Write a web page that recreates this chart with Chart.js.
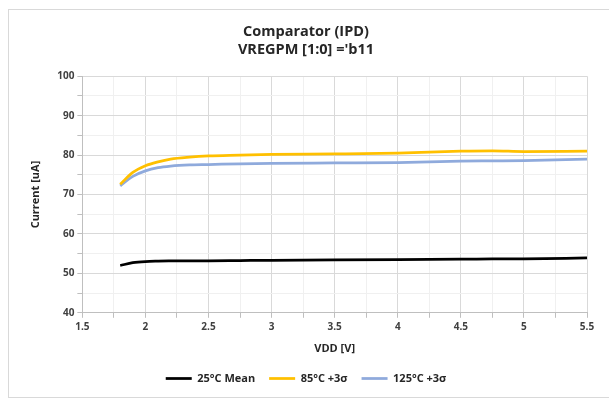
<!DOCTYPE html>
<html>
<head>
<meta charset="utf-8">
<script src="https://cdn.jsdelivr.net/npm/chart.js@4.4.1/dist/chart.umd.min.js"></script>
<style>
  html, body { margin: 0; padding: 0; background: #fff; }
  #wrap { position: absolute; left: 0; top: 0; width: 609px; height: 411px; }
</style>
</head>
<body>
<div id="wrap"><canvas id="chart" width="609" height="411"></canvas></div>
<script>
const vdd = [1.8, 1.9, 2.0, 2.1, 2.2, 2.35, 2.5, 2.75, 3, 3.5, 4, 4.5, 4.75, 5, 5.5];
const mean25 = [52.0, 52.7, 53.0, 53.1, 53.15, 53.2, 53.2, 53.25, 53.3, 53.4, 53.5, 53.6, 53.65, 53.7, 53.9];
const sigma85 = [72.6, 75.6, 77.3, 78.3, 79.0, 79.5, 79.8, 80.0, 80.2, 80.3, 80.5, 81.0, 81.1, 80.9, 81.0];
const sigma125 = [72.2, 74.6, 76.0, 76.8, 77.2, 77.5, 77.6, 77.8, 77.9, 78.0, 78.1, 78.5, 78.55, 78.6, 79.0];
const seriesNames = ["25°C Mean", "85°C +3σ", "125°C +3σ"];
const seriesColors = ["#000000", "#FFC000", "#8FAADC"];

const font = "'Open Sans', 'DejaVu Sans', sans-serif";
const chartCanvas = document.getElementById("chart");

function toPoints(ys) {
    return vdd.map((x, i) => ({ x: x, y: ys[i] }));
}

// outer frame like the spreadsheet chart border
const framePlugin = {
    id: "frame",
    beforeDraw(chart) {
        const ctx = chart.ctx;
        ctx.save();
        ctx.fillStyle = "#fff";
        ctx.fillRect(0, 0, chart.width, chart.height);
        ctx.strokeStyle = "#d9d9d9";
        ctx.lineWidth = 1;
        ctx.strokeRect(8.5, 9.5, 610, 388);
        ctx.restore();
    }
};

const datasets = [mean25, sigma85, sigma125].map((ys, i) => ({
    label: seriesNames[i],
    data: toPoints(ys),
    borderColor: seriesColors[i],
    backgroundColor: seriesColors[i],
    borderWidth: 2.75,
    pointRadius: 0,
    cubicInterpolationMode: "monotone",
    fill: false
}));

new Chart(chartCanvas, {
    type: "line",
    data: { datasets },
    options: {
        responsive: false,
        animation: false,
        layout: { padding: { left: 25, right: 22, top: 16, bottom: 17 } },
        plugins: {
            title: {
                display: true,
                text: ["Comparator (IPD)", "VREGPM [1:0] ='b11"],
                color: "#262626",
                font: { family: font, size: 14.5, weight: 700, lineHeight: 1.25 },
                padding: { top: 7, bottom: 17 }
            },
            legend: {
                position: "bottom",
                labels: {
                    usePointStyle: true,
                    pointStyle: "line",
                    pointStyleWidth: 26,
                    color: "#262626",
                    font: { family: font, size: 11, weight: 700 },
                    padding: 14
                }
            },
            tooltip: { enabled: false }
        },
        scales: {
            x: {
                type: "linear",
                min: 1.5,
                max: 5.5,
                ticks: {
                    stepSize: 0.25,
                    color: "#404040",
                    font: { family: font, size: 10, weight: 700 },
                    maxRotation: 0,
                    autoSkip: false,
                    callback: v => (Math.abs(v * 2 - Math.round(v * 2)) < 1e-6 ? String(v) : "")
                },
                grid: {
                    color: c => (Math.abs(c.tick.value * 2 - Math.round(c.tick.value * 2)) < 1e-6 ? "#d9d9d9" : "#f0f0f0"),
                    tickColor: "#bfbfbf",
                    tickLength: 5
                },
                border: { color: "#bfbfbf" },
                title: {
                    display: true,
                    text: "VDD [V]",
                    color: "#262626",
                    font: { family: font, size: 11, weight: 700 },
                    padding: { top: 6 }
                }
            },
            y: {
                min: 40,
                max: 100,
                ticks: {
                    stepSize: 5,
                    color: "#404040",
                    font: { family: font, size: 10, weight: 700 },
                    autoSkip: false,
                    callback: v => (v % 10 === 0 ? String(v) : "")
                },
                grid: {
                    color: c => (c.tick.value % 10 === 0 ? "#d9d9d9" : "#f0f0f0"),
                    tickColor: "#bfbfbf",
                    tickLength: 5
                },
                border: { color: "#bfbfbf" },
                title: {
                    display: true,
                    text: "Current [uA]",
                    color: "#262626",
                    font: { family: font, size: 11, weight: 700 },
                    padding: { bottom: 12 }
                }
            }
        }
    },
    plugins: [framePlugin]
});
</script>
</body>
</html>
